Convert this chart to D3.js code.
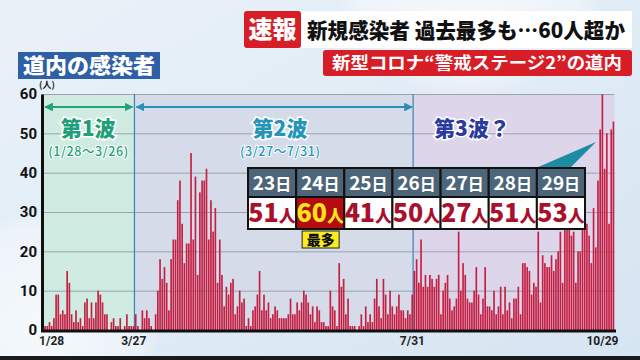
<!DOCTYPE html>
<html><head><meta charset="utf-8">
<script src="https://cdn.jsdelivr.net/npm/d3@7"></script>
<style>body{margin:0;overflow:hidden;background:#dfeaf4;} svg{display:block;}</style>
</head><body>
<svg id="c" width="640" height="360"></svg>
<script>
// ---- data ----
const wave1Values = [1,1,2,1,3,9,9,4,5,4,15,12,4,2,5,2,3,1,7,8,3,7,3,7,10,9,7,4,4,0,2,3,1,1,3,0,1,4,1,1,1];
const wave2Values = [4,1,0,5,3,5,3,1,0,4,10,18,13,16,12,5,18,23,23,33,38,27,17,22,22,45,23,39,14,35,38,38,41,23,33,25,31,12,
  23,14,6,11,9,12,13,4,6,10,7,8,1,3,1,5,6,9,15,5,9,5,7,3,4,6,5,3,3,3,3,4,8,4,4,7,5,7,10,9,
  7,4,6,2,6,5,2,2,1,1,10,6,5,1,17,11,13,4,8,1,1,1,0,1,4,1,6,2,4,2,8,13,6,3,13,9,4,10,6,4,6,9,5,5,3,5,4,9];
const wave3Values = [15,18,12,23,11,14,11,14,13,11,13,14,4,10,12,14,8,5,6,8,25,10,17,14,8,7,7,10,16,9,
  4,8,16,6,6,5,10,4,6,11,4,11,5,7,3,8,8,11,4,17,17,16,15,9,12,11,25,7,19,17,
  16,16,19,15,18,20,25,12,30,34,28,24,25,12,20,20,33,36,27,24,17,31,21,38,51,60,41,50,27,51,53];
const yTicks = [0,10,20,30,40,50,60];
const xTickDates = ["1/28","3/27","7/31","10/29"];
const waveNames = ["第1波","第2波","第3波？"];
const waveRanges = ["(1/28〜3/26)","(3/27〜7/31)"];
const tableDays = ["23","24","25","26","27","28","29"];
const tableCounts = [51,60,41,50,27,51,53];
const titleBadge = "速報";
const titleText = "新規感染者 過去最多も…60人超か";
const subTitle = "新型コロナ“警戒ステージ2”の道内";
const chartTitle = "道内の感染者";

(function(){
// ---- categories (dates) ----
const fmt = d3.timeFormat("%-m/%-d");
const w1Dates = ["1/28"].concat(d3.timeDay.range(new Date(2020,1,16), new Date(2020,2,27)).map(fmt));
const w2Dates = d3.timeDay.range(new Date(2020,2,27), new Date(2020,6,31)).map(fmt);
const w3Dates = d3.timeDay.range(new Date(2020,6,31), new Date(2020,9,30)).map(fmt);
const rows = [];
[[w1Dates,wave1Values],[w2Dates,wave2Values],[w3Dates,wave3Values]].forEach(([ds,vs])=>{
  ds.forEach((d,i)=>rows.push({date:d, value:vs[i]}));
});

const FONT = "'Noto Sans CJK JP','Noto Sans',sans-serif";
const svg = d3.select("#c").style("font-family", FONT);
const defs = svg.append("defs");

// background
const bg = defs.append("linearGradient").attr("id","bg").attr("x1",0).attr("y1",0).attr("x2",1).attr("y2",1);
bg.append("stop").attr("offset",0).attr("stop-color","#eaf2f9");
bg.append("stop").attr("offset",1).attr("stop-color","#d6e5f2");
svg.append("rect").attr("width",640).attr("height",360).attr("fill","url(#bg)");
const rg = defs.append("radialGradient").attr("id","glow");
rg.append("stop").attr("offset",0.0).attr("stop-color","#ffffff").attr("stop-opacity",0.7);
rg.append("stop").attr("offset",0.85).attr("stop-color","#ffffff").attr("stop-opacity",0.35);
rg.append("stop").attr("offset",1).attr("stop-color","#ffffff").attr("stop-opacity",0);
svg.append("circle").attr("cx",470).attr("cy",-40).attr("r",140).attr("fill","url(#glow)");
svg.append("circle").attr("cx",40).attr("cy",330).attr("r",120).attr("fill","url(#glow)");
svg.append("rect").attr("x",0).attr("y",356).attr("width",640).attr("height",4).attr("fill","#1a1a1a");

// scales
const pL = 44, pR = 614.5, pT = 94, pB = 330;
const x = d3.scaleBand().domain(rows.map(d=>d.date)).range([pL,pR]).paddingInner(0.25).paddingOuter(0.1);
const y = d3.scaleLinear().domain([0,60]).range([pB, pT]);
const step = x.step();
const div1 = x("3/27") - step*0.2;
const div2 = x("7/31") - step*0.2;

// wave backgrounds
const regions = [[42,div1,"#d0ebe1"],[div1,div2,"#d5dbe8"],[div2,pR,"#ddd5ea"]];
svg.append("g").selectAll("rect").data(regions).join("rect")
  .attr("x",d=>d[0]).attr("y",pT).attr("width",d=>d[1]-d[0]).attr("height",pB-pT)
  .attr("fill",d=>d[2]);

// gridlines
svg.append("g").attr("transform",`translate(42,0)`)
  .call(d3.axisLeft(y).tickValues(yTicks.slice(1)).tickSize(-(pR-42)).tickFormat(""))
  .call(g=>g.select(".domain").remove())
  .call(g=>g.selectAll("line").attr("stroke","#9aa3ad").attr("stroke-width",1));

// dividers
svg.append("g").selectAll("line").data([div1,div2]).join("line")
  .attr("x1",d=>d).attr("x2",d=>d).attr("y1",pT).attr("y2",pB)
  .attr("stroke","#3b82b4").attr("stroke-width",1.2);

// bars
svg.append("g").selectAll("rect").data(rows).join("rect")
  .attr("x",d=>x(d.date)).attr("width",x.bandwidth())
  .attr("y",d=>y(d.value)).attr("height",d=>y(0)-y(d.value))
  .attr("fill","#c51f43");

// y axis
const ya = svg.append("g").attr("transform","translate(42,0)")
  .call(d3.axisLeft(y).tickValues(yTicks).tickSize(0).tickPadding(5));
ya.select(".domain").attr("stroke","#111").attr("stroke-width",3);
ya.selectAll("text").attr("font-family","Roboto, 'Noto Sans', sans-serif").attr("font-weight",700)
  .attr("font-size",15).attr("fill","#111");
svg.append("text").attr("x",47).attr("y",88).attr("font-size",9).attr("font-weight",700)
  .attr("fill","#222").attr("text-anchor","middle").text("(人)");

// x axis
const xa = svg.append("g").attr("transform",`translate(0,${pB})`)
  .call(d3.axisBottom(x).tickValues(xTickDates).tickSize(0).tickPadding(6));
xa.select(".domain").attr("d",`M41,1H616`).attr("stroke","#111").attr("stroke-width",3);
xa.selectAll("text").attr("font-family","Roboto, 'Noto Sans', sans-serif").attr("font-weight",700)
  .attr("font-size",12).attr("fill","#222")
  .attr("text-anchor",d=>d==="1/28"?"start":d==="10/29"?"end":"middle")
  .attr("dx",d=>d==="1/28"?-6:d==="10/29"?5:-2);

// arrows
function arrowMarker(id,color){
  const m = defs.append("marker").attr("id",id).attr("viewBox","0 0 10 10").attr("refX",9).attr("refY",5)
    .attr("markerWidth",4).attr("markerHeight",4).attr("orient","auto-start-reverse");
  m.append("path").attr("d","M0,0L10,5L0,10Z").attr("fill",color);
}
arrowMarker("ag","#22a27b"); arrowMarker("ab","#2b8fb5");
svg.append("line").attr("x1",45).attr("x2",div1-2).attr("y1",107).attr("y2",107)
  .attr("stroke","#22a27b").attr("stroke-width",2.2)
  .attr("marker-start","url(#ag)").attr("marker-end","url(#ag)");
svg.append("line").attr("x1",div1+2).attr("x2",div2-1).attr("y1",107).attr("y2",107)
  .attr("stroke","#2b8fb5").attr("stroke-width",2.2)
  .attr("marker-start","url(#ab)").attr("marker-end","url(#ab)");

// wave labels
const waveLabel = [
  {t:waveNames[0], r:waveRanges[0], cx:(42+div1)/2, c:"#1f9f77"},
  {t:waveNames[1], r:waveRanges[1], cx:280, c:"#2495b8"},
  {t:waveNames[2], r:null, cx:472, c:"#2b3aa0"}
];
waveLabel.forEach(w=>{
  svg.append("text").attr("x",w.cx).attr("y",136).attr("text-anchor","middle")
    .attr("font-size",21).attr("font-weight",900).attr("fill",w.c)
    .attr("stroke","#ffffff").attr("stroke-width",3).attr("paint-order","stroke")
    .text(w.t);
  if(w.r) svg.append("text").attr("x",w.cx).attr("y",156).attr("text-anchor","middle")
    .attr("font-size",12.5).attr("font-weight",500).attr("fill",w.c)
    .attr("stroke","#ffffff").attr("stroke-width",2).attr("paint-order","stroke")
    .attr("textLength",80).attr("lengthAdjust","spacing")
    .text(w.r);
});

// callout wedge
svg.append("path").attr("d","M536,168L570,168L596,142Z").attr("fill","#1b8ca2");

// table
const tx = d3.scaleBand().domain(tableDays).range([248,585]);
const tbl = svg.append("g");
const cols = tbl.selectAll("g").data(tableDays.map((d,i)=>({d, n:tableCounts[i], max: tableCounts[i]===d3.max(tableCounts)}))).join("g")
  .attr("transform",d=>`translate(${tx(d.d)},0)`);
cols.append("rect").attr("x",0).attr("y",168).attr("width",tx.bandwidth()).attr("height",29)
  .attr("fill","#4d6578").attr("stroke","#111").attr("stroke-width",2);
cols.append("rect").attr("x",0).attr("y",197).attr("width",tx.bandwidth()).attr("height",32)
  .attr("fill",d=>d.max?"#b30d12":"#ffffff").attr("stroke","#111").attr("stroke-width",2);
const ht = cols.append("text").attr("x",tx.bandwidth()/2).attr("y",190).attr("text-anchor","middle")
  .attr("fill","#ffffff").attr("font-weight",700);
ht.append("tspan").attr("font-size",19).text(d=>d.d);
ht.append("tspan").attr("font-size",16).text("日");
const vt = cols.append("text").attr("x",tx.bandwidth()/2).attr("y",222).attr("text-anchor","middle")
  .attr("fill",d=>d.max?"#ffe21a":"#a8102c").attr("font-weight",900);
vt.append("tspan").attr("font-size",25).text(d=>d.n);
vt.append("tspan").attr("font-size",17).text("人");
// 最多 badge
const mx = tx("24");
svg.append("rect").attr("x",mx+6).attr("y",231).attr("width",37).attr("height",17)
  .attr("fill","#f8ec1c").attr("stroke","#222").attr("stroke-width",1);
svg.append("text").attr("x",mx+24.5).attr("y",245).attr("text-anchor","middle")
  .attr("font-size",14).attr("font-weight",900).attr("fill","#111").text("最多");

// title boxes
svg.append("rect").attr("x",244).attr("y",11).attr("width",57).attr("height",37).attr("rx",3).attr("fill","#d71d26");
svg.append("text").attr("x",272.5).attr("y",38).attr("text-anchor","middle").attr("font-size",24)
  .attr("font-weight",900).attr("fill","#fff").text(titleBadge);
svg.append("rect").attr("x",301).attr("y",11).attr("width",331).attr("height",37).attr("fill","#ffffff");
svg.append("text").attr("x",307).attr("y",38).attr("font-size",21).attr("font-weight",900)
  .attr("fill","#111").attr("textLength",318).attr("lengthAdjust","spacingAndGlyphs").text(titleText);
svg.append("rect").attr("x",323).attr("y",50).attr("width",309).attr("height",26).attr("rx",3).attr("fill","#d71d26");
svg.append("text").attr("x",477).attr("y",69).attr("text-anchor","middle").attr("font-size",17)
  .attr("font-weight",700).attr("fill","#fff").attr("textLength",290).attr("lengthAdjust","spacingAndGlyphs").text(subTitle);
svg.append("rect").attr("x",18).attr("y",52).attr("width",142).attr("height",27).attr("fill","#2f5fa7");
svg.append("text").attr("x",89).attr("y",73).attr("text-anchor","middle").attr("font-size",21)
  .attr("font-weight",900).attr("fill","#fff").attr("textLength",132).attr("lengthAdjust","spacingAndGlyphs").text(chartTitle);
})();
</script>
</body></html>
